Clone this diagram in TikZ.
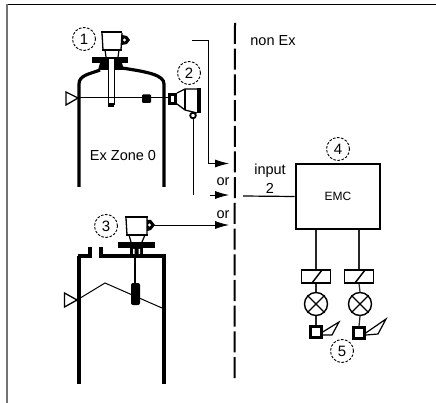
\documentclass[tikz,border=0pt]{standalone}
\usepackage{fontspec}
\setmainfont{Liberation Sans}
\usetikzlibrary{arrows.meta}
\tikzset{
  wall/.style={line width=3.2pt},
  thin line/.style={line width=1.2pt,black!85},
  marker/.style={circle,draw,dash pattern=on 2.6pt off 1.5pt,line width=0.9pt,minimum size=23pt,inner sep=0pt,font=\fontsize{15}{15}\selectfont},
  sig/.style={line width=0.8pt,-{Latex[length=14pt,width=8pt]}},
  relaybox/.style={draw,line width=1.5pt,minimum width=29pt,minimum height=13pt,inner sep=0pt},
  lampbox/.style={circle,draw,line width=1.4pt,minimum size=23pt,inner sep=0pt},
  hornbox/.style={draw,line width=2.4pt,minimum size=11pt,inner sep=0pt},
  lbl/.style={inner sep=0pt,font=\fontsize{14.5}{14.5}\selectfont}
}
\begin{document}
\begin{tikzpicture}[x=1pt,y=-1pt]
\useasboundingbox (0,0) rectangle (436,403);
% frame
\draw[line width=1pt] (6,4.5) -- (436,4.5);
\draw[line width=1.5pt,black!55] (7,4.5) -- (7,403);
% zone border
\draw[line width=2pt,dash pattern=on 21pt off 4.7pt] (235,23) -- (234.5,378);
% first tank
\draw[wall] (79,187) -- (79,84) .. controls (79,75) and (90,74) .. (100,70);
\draw[wall] (164,187) -- (164,84) .. controls (164,75) and (148,72) .. (122,68);
% first device
\fill (92,57) rectangle (128,63);
\fill (100,63) -- (122,63) -- (124,70) -- (98,70) -- cycle;
\filldraw[fill=white,line width=1pt] (108,59) rectangle (114,105);
\fill (108,103) rectangle (114,107);
\draw[line width=1.3pt] (102,33) -- (103,50) (122,33) -- (121,50);
\draw[line width=2.6pt] (101,32) -- (122,32);
\draw[line width=2.2pt] (102,50) -- (122,50);
\draw[line width=1.2pt] (105,50) -- (106,57) (119,50) -- (118,57);
\fill (122,35) -- (127,36) -- (130,40) -- (127,44) -- (122,45) -- cycle;
\fill[white] (124.5,40) circle (1.6pt);
% second device with the beam
\draw[line width=1.3pt,fill=white] (66,92) -- (78,98) -- (66,105) -- cycle;
\draw[line width=1pt] (78,98) -- (168,98);
\fill[rounded corners=1pt] (142,94.5) rectangle (151,103);
\fill (168,93) rectangle (177,105);
\fill[white] (170.5,96) rectangle (173.5,102);
\draw[line width=1.3pt] (177,93) -- (185,89) -- (198,89) (177,104) -- (185,110) -- (197,113);
\draw[line width=3.4pt] (199,88) -- (199,113);
\draw[line width=1.3pt] (185,89) -- (185,110);
\filldraw[fill=white,line width=1.8pt] (193,115.5) circle (2.8pt);
% third tank
\draw[wall] (79,384) -- (79,256) (77.5,256) -- (90,256) -- (90,247);
\draw[wall] (164,384) -- (164,256) (165.5,256) -- (101,256) -- (101,247);
% third device
\fill (118,242) rectangle (155,248.5);
\fill (130,248) rectangle (143,255);
\fill[white] (133,249) rectangle (134.5,254) (138.5,249) rectangle (140,254);
\draw[line width=2pt] (135,255) -- (135,284);
\fill[rounded corners=2pt] (131,283) rectangle (140,305);
\draw[line width=1.3pt] (126,218) -- (127,235) (147,218) -- (147,235);
\draw[line width=2.6pt] (125,217) -- (148,217);
\draw[line width=2pt] (126,235) -- (148,235);
\draw[line width=1.2pt] (129,235) -- (131,242) (145,235) -- (142,242);
\fill (147,220) -- (151,220) -- (155,225) -- (151,230) -- (147,231) -- cycle;
\fill[white] (149.5,225) circle (1.6pt);
\draw[line width=1.3pt,fill=white] (64.5,293) -- (77,300) -- (64.5,307) -- cycle;
\fill (78,300) circle (2pt);
\draw[line width=1pt] (77,300) -- (105,283) -- (162,308);
% signal lines
\coordinate (topstart) at (192,40);
\coordinate (topbend) at (208,40);
\coordinate (topdown) at (208,163.5);
\coordinate (topend) at (229,163.5);
\coordinate (midstart) at (193,118);
\coordinate (midbend) at (193,195);
\coordinate (midfrom) at (210,195);
\coordinate (midend) at (229,195);
\coordinate (lowstart) at (154,225);
\coordinate (lowend) at (229,225);
\draw[sig] (topstart) -- (topbend) -- (topdown) -- (topend);
\draw[line width=0.9pt] (midstart) -- (midbend);
\draw[sig] (midfrom) -- (midend);
\draw[sig] (lowstart) -- (lowend);
% numbers
\node[marker] (one) at (84,39) {1};
\node[marker] (two) at (189,73) {2};
\node[marker] (three) at (106,226) {3};
\node[marker] (four) at (338,149) {4};
\node[marker] (five) at (342,351) {5};
% labels
\node[lbl] (zone) at (123,156) {Ex Zone 0};
\node[lbl] (nonex) at (273,41) {non Ex};
\node[lbl] (orone) at (223,182) {or};
\node[lbl] (ortwo) at (223,215) {or};
\node[lbl] (input) at (270,171) {input};
\node[lbl] (inputno) at (270,188) {2};
% evaluation unit
\node[draw,line width=2.6pt,minimum width=84pt,minimum height=65pt,inner sep=0pt,font=\fontsize{12}{12}\selectfont] (emc) at (338,196.5) {EMC};
\coordinate (inputstart) at (243,196);
\draw[line width=1.2pt] (inputstart) -- (emc.west);
% relays
\node[relaybox] (relayone) at (316,276.5) {};
\node[relaybox] (relaytwo) at (359,276.5) {};
\draw[line width=1.5pt] (312,283) -- (322,270);
\draw[line width=1.5pt] (355,283) -- (365,270);
\draw[thin line] (relayone.north) -- (relayone.north |- emc.south);
\draw[thin line] (relaytwo.north) -- (relaytwo.north |- emc.south);
% lamps
\node[lampbox] (lampone) at (316,304) {};
\node[lampbox] (lamptwo) at (360,304) {};
\draw[line width=1.2pt] (lampone.45) -- (lampone.225) (lampone.135) -- (lampone.315);
\draw[line width=1.2pt] (lamptwo.45) -- (lamptwo.225) (lamptwo.135) -- (lamptwo.315);
\draw[thin line] (relayone.south) -- (lampone.north);
\draw[thin line] (relaytwo.south) -- (lamptwo.north);
% horns
\node[hornbox] (hornone) at (316,332) {};
\node[hornbox] (horntwo) at (359,333) {};
\draw[thin line] (lampone.south) -- (hornone.north);
\draw[thin line] (lamptwo.south) -- (horntwo.north);
\draw[line width=1.2pt] (hornone.east) -- (339,322) -- (332,335) -- (323,335);
\draw[line width=1.2pt] (horntwo.east) -- (386,319) -- (378,334) -- (366,335);
\end{tikzpicture}
\end{document}
